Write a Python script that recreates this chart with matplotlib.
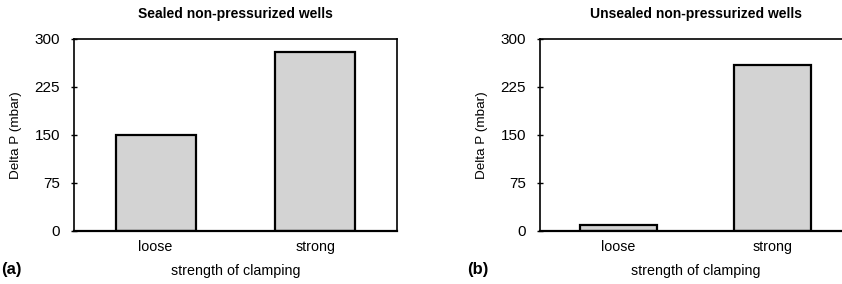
import matplotlib.pyplot as plt

plt.rcParams['font.family'] = ['Liberation Sans', 'DejaVu Sans']

categories = ['loose', 'strong']
sealed = [150, 280]
unsealed = [10, 260]
yticks = [0, 75, 150, 225, 300]

fig = plt.figure(figsize=(8.42, 2.84), dpi=100)
W, H = 842, 284

# axes boxes in pixels: left, bottom, width, height
boxes = [(74, 53, 323, 192), (540, 53, 311, 192)]
panels = [('Sealed non-pressurized wells', sealed, '(a)'),
          ('Unsealed non-pressurized wells', unsealed, '(b)')]

for (l, b, w, h), (title, vals, tag) in zip(boxes, panels):
    ax = fig.add_axes([l / W, b / H, w / W, h / H])
    ax.bar(range(len(categories)), vals, width=0.5, color='#d3d3d3',
           edgecolor='black', linewidth=1.6)
    ax.set_xlim(-0.51, 1.51)
    ax.set_ylim(0, 300)
    ax.set_yticks(yticks)
    ax.set_xticks(range(len(categories)))
    ax.set_xticklabels(categories)
    ax.tick_params(axis='y', direction='inout', length=4, width=1, labelsize=11, pad=8)
    ax.tick_params(axis='x', length=0, labelsize=10.3, pad=6.5)
    for s in ax.spines.values():
        s.set_linewidth(1.2)
    ax.spines['bottom'].set_linewidth(1.6)
    ax.set_ylabel('Delta P (mbar)', fontsize=9.7, labelpad=9)
    ax.set_xlabel('strength of clamping', fontsize=10.3, labelpad=7)
    ax.set_title(title, fontsize=10, fontweight='bold', pad=15)
    fig.text((l - 73) / W, 7 / H, tag, fontsize=12, fontweight='bold',
             ha='left', va='bottom')

fig.savefig('out.png', dpi=100)
